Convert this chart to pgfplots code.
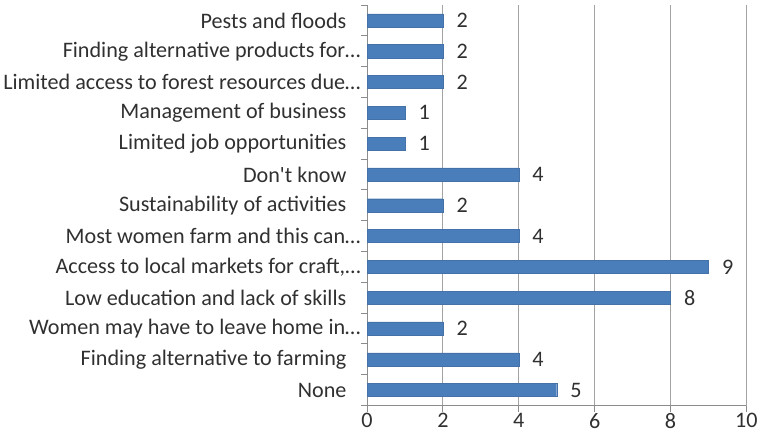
\documentclass[border=0pt]{standalone}
\usepackage{pgfplots}
\pgfplotsset{compat=1.18}
\usepackage{fontspec}
\setmainfont{Carlito}
\definecolor{barblue}{HTML}{4A7EBB}
\definecolor{txt}{HTML}{303030}
\definecolor{axgray}{HTML}{8C8C8C}
\newcommand{\pad}{\hspace*{14pt}}
\begin{document}
\begin{tikzpicture}
\begin{axis}[
  scale only axis,
  width=377pt, height=398pt,
  xbar, bar width=13pt,
  xmin=0, xmax=10,
  ymin=-0.5, ymax=12.5,
  xtick={0,2,...,10},
  ytick={0,...,12},
  yticklabels={None\pad,Finding alternative to farming\pad,Women may have to leave home in\dots,Low education and lack of skills\pad,{Access to local markets for craft,\dots},Most women farm and this can\dots,Sustainability of activities\pad,Don\textquotesingle t know\pad,Limited job opportunities\pad,Management of business\pad,Limited access to forest resources due\dots,Finding alternative products for\dots,Pests and floods\pad},
  minor ytick={-0.5,0.5,...,12.5},
  axis x line*=bottom, axis y line*=left,
  axis line style={axgray, line width=1pt, -},
  xmajorgrids, major grid style={axgray!80, line width=1pt},
  major tick length=0pt,
  minor tick length=6pt,
  minor tick style={axgray, line width=1pt},
  every tick label/.append style={font=\fontsize{22}{22}\selectfont, text=txt},
  yticklabel style={xshift=-3pt},
  xticklabel style={yshift=-4pt},
  extra x ticks={0,2,...,10},
  extra x tick labels={},
  extra x tick style={major tick length=6pt, tick style={axgray, line width=1pt}, grid=none},
  tick align=outside,
  /pgf/number format/assume math mode=true,
  nodes near coords,
  every node near coord/.append style={font=\fontsize{22}{22}\selectfont, text=txt, anchor=west, xshift=10pt},
]
\addplot[fill=barblue, draw=barblue!90!black] coordinates {
  (5,0) (4,1) (2,2) (8,3) (9,4) (4,5) (2,6) (4,7) (1,8) (1,9) (2,10) (2,11) (2,12)
};
\end{axis}
\path ([yshift=5pt]current axis.north) ([yshift=-40pt]current axis.south);
\end{tikzpicture}
\end{document}
